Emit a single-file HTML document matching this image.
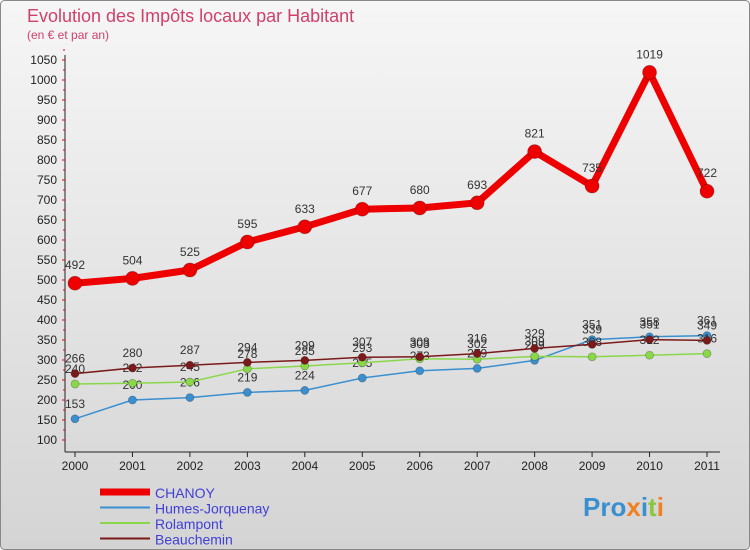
<!DOCTYPE html>
<html><head><meta charset="utf-8"><style>
body{margin:0;}
#wrap{width:750px;height:550px;position:relative;overflow:hidden;font-family:"Liberation Sans",sans-serif;}
</style></head><body>
<div id="wrap">
<svg id="svg" width="750" height="550" xmlns="http://www.w3.org/2000/svg">
<defs>
<linearGradient id="bg" x1="0" y1="0" x2="0" y2="1"><stop offset="0" stop-color="#f6f6f6"/><stop offset="1" stop-color="#d4d4d4"/></linearGradient>
</defs>
<rect x="0.5" y="0.5" width="749" height="549" rx="4" fill="url(#bg)" stroke="#888"/>
<text x="27" y="22" font-size="18" fill="#d0406a">Evolution des Impôts locaux par Habitant</text>
<text x="27" y="39" font-size="12" fill="#d0406a">(en € et par an)</text>
<g id="axes"></g>
<g id="series"></g>
<g id="legend"></g>
<text x="583" y="516" font-size="26" font-weight="bold" fill="#3a8fd0">Pro<tspan fill="#f08020">x</tspan><tspan fill="#3a8fd0">i</tspan><tspan fill="#8cc63f">t</tspan><tspan fill="#f08020">i</tspan></text>
</svg>
</div>
<script>
const years=['2000','2001','2002','2003','2004','2005','2006','2007','2008','2009','2010','2011'];
const yTicks=[100,150,200,250,300,350,400,450,500,550,600,650,700,750,800,850,900,950,1000,1050];
const chanoy=[492,504,525,595,633,677,680,693,821,735,1019,722];
const humes=[153,200,206,219,224,255,273,279,299,351,358,361];
const rolampont=[240,242,245,278,285,293,303,302,309,308,312,316];
const beauchemin=[266,280,287,294,299,307,308,316,329,339,351,349];
const NS='http://www.w3.org/2000/svg';
const X=i=>75+i*(707-75)/11;
const Y=v=>440-(v-100)*380/950;
function mk(tag,attrs,parent){const e=document.createElementNS(NS,tag);for(const k in attrs)e.setAttribute(k,attrs[k]);parent.appendChild(e);return e;}
const axes=document.getElementById('axes');
let l=mk('line',{x1:65,y1:55,x2:65,y2:452,stroke:'#222'},axes);


l=mk('line',{x1:65,y1:452,x2:720,y2:452,stroke:'#222'},axes);


yTicks.forEach(v=>{
 const t=mk('text',{x:57,y:Y(v)+4,'font-size':12,'text-anchor':'end',fill:'#222'},axes);t.textContent=v;
 
 
 mk('line',{x1:62,y1:Y(v),x2:65,y2:Y(v),stroke:'#e00'},axes);
 mk('line',{x1:63,y1:Y(v+25),x2:65,y2:Y(v+25),stroke:'#e00'},axes);
});
years.forEach((y,i)=>{
 mk('line',{x1:X(i),y1:452,x2:X(i),y2:457,stroke:'#222'},axes);
 const t=mk('text',{x:X(i),y:470,'font-size':12,'text-anchor':'middle',fill:'#222'},axes);t.textContent=y;
 
 
});
const ser=document.getElementById('series');
function draw(name,data,color,w,r,fs,dy){
 const g=mk('g',{},ser);
 
 
 const p=mk('polyline',{points:data.map((v,i)=>X(i)+','+Y(v)).join(' '),fill:'none',stroke:color,'stroke-width':w,'stroke-linejoin':'round'},g);
 
 
 data.forEach((v,i)=>{
  const c=mk('circle',{cx:X(i),cy:Y(v),r:r,fill:color,stroke:'rgba(0,0,0,0.3)','stroke-width':0.7},g);
  
  
  const t=mk('text',{x:X(i),y:Y(v)+dy,'font-size':fs,'text-anchor':'middle',fill:'#333'},g);t.textContent=v;
  
  
 });
}
draw('humes',humes,'#3a8fd0',1.5,4,12,-11);
draw('rolampont',rolampont,'#8ad84a',1.5,4,12,-11);
draw('beauchemin',beauchemin,'#7a1a1a',1.5,4,12,-11);
draw('chanoy',chanoy,'#ee0000',7,7,12,-14);
const leg=document.getElementById('legend');
const items=[['CHANOY','#ee0000',7],['Humes-Jorquenay','#3a8fd0',2],['Rolampont','#8ad84a',2],['Beauchemin','#7a1a1a',2]];
items.forEach((it,i)=>{
 const y=492+i*15.5;
 const g=mk('g',{},leg);
 
 
 mk('line',{x1:100,y1:y,x2:150,y2:y,stroke:it[1],'stroke-width':it[2]},g);
 const t=mk('text',{x:155,y:y+6,'font-size':14,fill:'#4040d8'},g);t.textContent=it[0];
});
</script>
</body></html>
